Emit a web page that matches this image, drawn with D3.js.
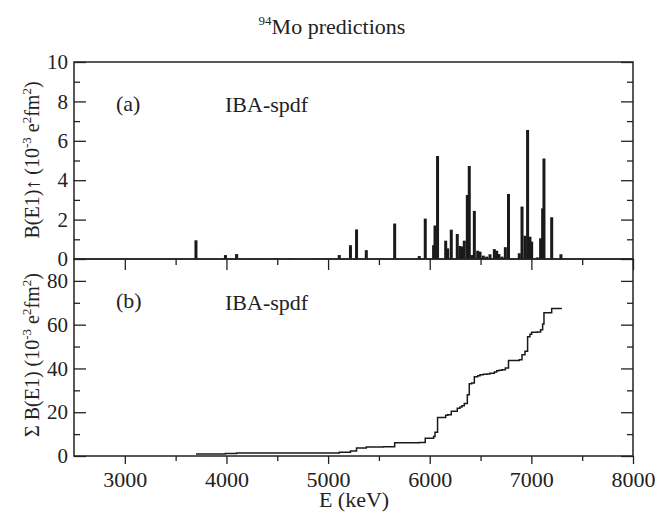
<!DOCTYPE html>
<html lang="en">
<head>
<meta charset="utf-8">
<title>94Mo predictions</title>
<script src="https://d3js.org/d3.v7.min.js"></script>
<style>
  body { margin: 0; background: #fff; }
  text { font-family: "Liberation Serif", "Times New Roman", serif; fill: #222; }
</style>
</head>
<body>
<svg width="659" height="516"></svg>
<script>
// panel (a): B(E1) strength of each level, E in keV, B in 10^-3 e^2 fm^2
var barE = [3700, 3990, 4100, 4290, 4490, 4625, 4890, 4985, 5110, 5220, 5280, 5376, 5545, 5655,
            5897, 5956, 6038, 6052, 6077, 6157, 6177, 6212, 6271, 6298, 6317, 6340, 6370, 6389,
            6413, 6439, 6472, 6495, 6527, 6560, 6593, 6636, 6659, 6681, 6711, 6744, 6775, 6881,
            6908, 6937, 6963, 6986, 7003, 7058, 7091, 7111, 7124, 7200, 7291];
var barB = [0.95, 0.2, 0.25, 0.03, 0.03, 0.04, 0.03, 0.03, 0.2, 0.7, 1.5, 0.45, 0.05, 1.8,
            0.15, 2.05, 0.7, 1.7, 5.23, 0.93, 0.54, 1.49, 1.27, 0.66, 0.63, 0.93, 3.25, 4.72,
            0.2, 2.44, 0.42, 0.37, 0.17, 0.12, 0.24, 0.5, 0.42, 0.25, 0.12, 0.6, 3.3, 0.29,
            2.66, 1.18, 6.55, 1.13, 0.88, 0.08, 1.05, 2.57, 5.1, 2.12, 0.24];

// panel (b): running sum
var sumE = [3700, 3990, 4100, 5110, 5220, 5280, 5376, 5545, 5655, 5897, 5956, 6038, 6052, 6077,
            6157, 6177, 6212, 6271, 6298, 6317, 6340, 6370, 6389, 6413, 6439, 6472, 6495, 6527,
            6560, 6593, 6636, 6659, 6681, 6711, 6744, 6775, 6881, 6908, 6937, 6963, 6986, 7003,
            7058, 7091, 7111, 7124, 7200, 7300];
var sumB = [0.9, 1.1, 1.4, 1.7, 2.3, 3.6, 4.1, 4.2, 6.0, 6.2, 8.1, 8.9, 10.8, 17.6,
            18.6, 18.9, 20.4, 21.8, 22.4, 23.0, 24.0, 28.0, 33.0, 33.3, 36.2, 36.7, 37.1, 37.3,
            37.5, 37.8, 38.4, 38.9, 39.2, 39.4, 40.2, 43.6, 44.0, 46.3, 47.8, 54.5, 55.6, 56.5,
            56.6, 57.7, 60.3, 65.4, 67.4, 67.4];

var xTicks = [3000, 4000, 5000, 6000, 7000, 8000];
var aTicks = [0, 2, 4, 6, 8, 10];
var bTicks = [0, 20, 40, 60, 80];

var serif = "'Liberation Serif', 'Times New Roman', serif";
var svg = d3.select("svg");
var left = 74, right = 633;
var aTop = 62, mid = 259, bBot = 456;

var x = d3.scaleLinear().domain([2500, 8000]).range([left, right]);
var yA = d3.scaleLinear().domain([0, 10]).range([mid, aTop]);
var yB = d3.scaleLinear().domain([0, 90]).range([bBot, mid]);

// bars
svg.append("g").selectAll("rect")
    .data(d3.zip(barE, barB))
    .enter().append("rect")
    .attr("x", function(d){ return x(d[0]) - 1.5; })
    .attr("y", function(d){ return yA(d[1]); })
    .attr("width", 3)
    .attr("height", function(d){ return mid - yA(d[1]); })
    .attr("fill", "#1a1a1a");

// cumulative steps
var line = d3.line()
    .x(function(d){ return x(d[0]); })
    .y(function(d){ return yB(d[1]); })
    .curve(d3.curveStepAfter);
svg.append("path")
    .datum(d3.zip(sumE, sumB))
    .attr("d", line)
    .attr("fill", "none")
    .attr("stroke", "#1a1a1a")
    .attr("stroke-width", 1.5);

// frames
[[aTop, mid], [mid, bBot]].forEach(function(p){
    svg.append("rect")
        .attr("x", left).attr("y", p[0])
        .attr("width", right - left).attr("height", p[1] - p[0])
        .attr("fill", "none").attr("stroke", "#222").attr("stroke-width", 1.5);
});

// y axes, ticks inward on both sides
function tickOnly(pos, axis) {
    var g = svg.append("g").attr("transform", pos).call(axis);
    g.select(".domain").remove();
    return g;
}
function yAxes(scale, ticks, minors) {
    var l = "translate(" + left + ",0)", r = "translate(" + right + ",0)";
    tickOnly(l, d3.axisRight(scale).tickValues(minors).tickSize(6).tickFormat(""));
    tickOnly(l, d3.axisRight(scale).tickValues(ticks).tickSize(12).tickFormat(""));
    tickOnly(r, d3.axisLeft(scale).tickValues(minors).tickSize(6).tickFormat(""));
    tickOnly(r, d3.axisLeft(scale).tickValues(ticks).tickSize(12).tickFormat(""));
    var lab = tickOnly(l, d3.axisLeft(scale).tickValues(ticks).tickSize(0).tickPadding(6));
    lab.attr("font-family", serif).attr("font-size", 21);
    lab.selectAll("text").style("font-size", "21px").style("font-family", serif).attr("fill", "#222");
}
yAxes(yA, aTicks, [1, 3, 5, 7, 9]);
yAxes(yB, bTicks, [10, 30, 50, 70]);

// x axes, ticks pointing down
var xMinor = [3500, 4500, 5500, 6500, 7500];
[[mid, 11, 6, false], [bBot, 8, 5, true]].forEach(function(p){
    var pos = "translate(0," + p[0] + ")";
    tickOnly(pos, d3.axisBottom(x).tickValues(xMinor).tickSize(p[2]).tickFormat(""));
    var g2 = tickOnly(pos, d3.axisBottom(x).tickValues(xTicks).tickSize(p[1]).tickPadding(7)
              .tickFormat(p[3] ? d3.format("d") : ""));
    g2.attr("font-family", serif).attr("font-size", 22);
    g2.selectAll("text").style("font-size", "22px").style("font-family", serif).attr("fill", "#222");
});
svg.selectAll(".tick line").attr("stroke", "#222").attr("stroke-width", 1.3);

// title
var t = svg.append("text").attr("x", 332).attr("y", 34).attr("text-anchor", "middle")
    .style("font-size", "22px");
t.append("tspan").text("94").style("font-size", "13px").attr("dy", "-9");
t.append("tspan").text("Mo predictions").attr("dy", "9");

// axis titles
svg.append("text").attr("x", 354).attr("y", 507).attr("text-anchor", "middle")
    .style("font-size", "22px").text("E (keV)");

function yTitle(cy, parts) {
    var tt = svg.append("text")
        .attr("transform", "translate(39," + cy + ") rotate(-90)")
        .attr("text-anchor", "middle")
        .style("font-size", "20px");
    parts.forEach(function(p){
        tt.append("tspan").text(p[0]).attr("dy", p[1])
            .style("font-size", p[2] ? "13px" : "20px");
    });
}
yTitle(160, [["B(E1)\u2191 (10", 0, false], ["-3", -8, true], [" e", 8, false],
             ["2", -8, true], ["fm", 8, false], ["2", -8, true], [")", 8, false]]);
yTitle(355, [["\u03A3 B(E1) (10", 0, false], ["-3", -8, true], [" e", 8, false],
             ["2", -8, true], ["fm", 8, false], ["2", -8, true], [")", 8, false]]);

// panel labels
svg.append("text").attr("x", 116).attr("y", 111).style("font-size", "22px").text("(a)");
svg.append("text").attr("x", 225).attr("y", 112).style("font-size", "22px").text("IBA-spdf");
svg.append("text").attr("x", 116).attr("y", 308).style("font-size", "22px").text("(b)");
svg.append("text").attr("x", 225).attr("y", 310).style("font-size", "22px").text("IBA-spdf");
</script>
</body>
</html>
